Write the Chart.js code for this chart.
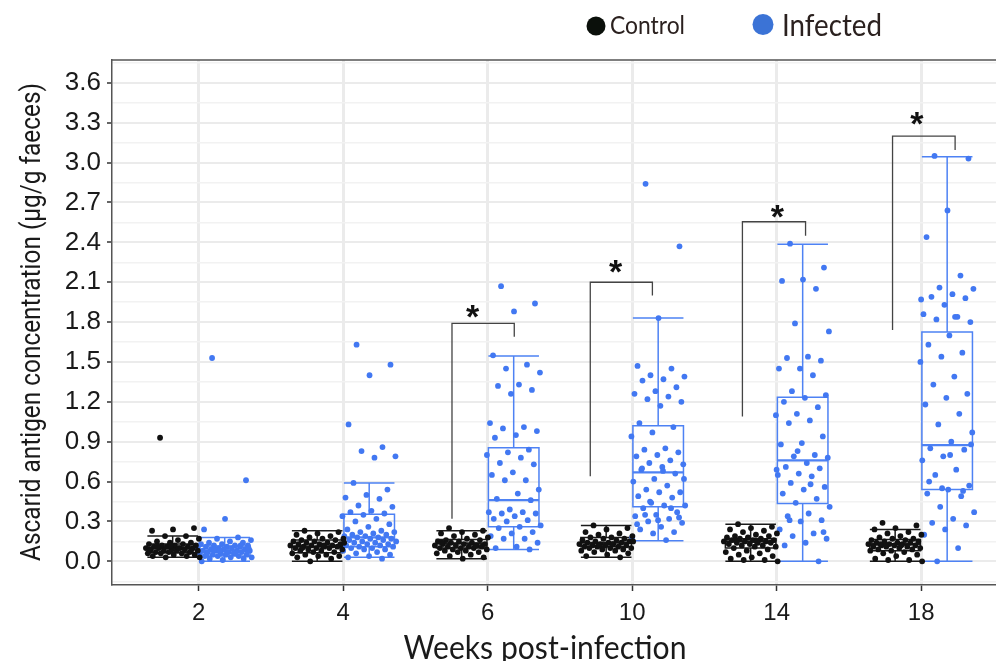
<!DOCTYPE html>
<html>
<head>
<meta charset="utf-8">
<script src="https://cdn.jsdelivr.net/npm/chart.js@4.4.1/dist/chart.umd.min.js"></script>
<style>
  html, body { margin: 0; padding: 0; background: #fff; }
  #wrap { width: 996px; height: 661px; position: relative; }
</style>
</head>
<body>
<div id="wrap"><canvas id="chart"></canvas></div>
<script>
const weeks = ['2', '4', '6', '10', '14', '18'];

// individual samples (µg/g)
const ctrlW2 = [0.93, 0.25, 0.24, 0.23, 0.19, 0.19, 0.17, 0.16, 0.15, 0.14, 0.14, 0.13, 0.13, 0.12, 0.12, 0.12, 0.11, 0.11, 0.11, 0.10, 0.10, 0.10, 0.10, 0.09, 0.09, 0.09, 0.08, 0.08, 0.08, 0.07, 0.07, 0.07, 0.06, 0.06, 0.06, 0.05, 0.05, 0.04, 0.04, 0.03, 0.03, 0.10, 0.11, 0.09, 0.12, 0.08];
const ctrlW4 = [0.23, 0.22, 0.21, 0.20, 0.19, 0.18, 0.17, 0.17, 0.16, 0.16, 0.15, 0.15, 0.14, 0.14, 0.13, 0.13, 0.13, 0.12, 0.12, 0.12, 0.11, 0.11, 0.11, 0.10, 0.10, 0.10, 0.09, 0.09, 0.08, 0.08, 0.07, 0.07, 0.06, 0.05, 0.05, 0.04, 0.04, 0.03, 0.02, 0.00, 0.14, 0.12, 0.10];
const ctrlW6 = [0.25, 0.23, 0.22, 0.21, 0.20, 0.19, 0.18, 0.17, 0.16, 0.16, 0.15, 0.15, 0.14, 0.14, 0.13, 0.13, 0.13, 0.12, 0.12, 0.12, 0.11, 0.11, 0.11, 0.10, 0.10, 0.10, 0.09, 0.09, 0.08, 0.08, 0.07, 0.07, 0.06, 0.05, 0.04, 0.03, 0.02, 0.14, 0.12];
const ctrlW10 = [0.27, 0.25, 0.24, 0.22, 0.21, 0.20, 0.19, 0.18, 0.18, 0.17, 0.17, 0.16, 0.16, 0.15, 0.15, 0.14, 0.14, 0.14, 0.13, 0.13, 0.13, 0.12, 0.12, 0.12, 0.11, 0.11, 0.11, 0.10, 0.10, 0.10, 0.09, 0.09, 0.08, 0.08, 0.07, 0.06, 0.05, 0.04, 0.03, 0.12, 0.15, 0.13];
const ctrlW14 = [0.28, 0.26, 0.25, 0.24, 0.23, 0.22, 0.21, 0.20, 0.19, 0.19, 0.18, 0.18, 0.17, 0.17, 0.16, 0.16, 0.16, 0.15, 0.15, 0.15, 0.14, 0.14, 0.14, 0.13, 0.13, 0.12, 0.12, 0.11, 0.11, 0.10, 0.09, 0.08, 0.07, 0.06, 0.05, 0.04, 0.03, 0.02, 0.01, 0.01, 0.00, 0.15, 0.16];
const ctrlW18 = [0.29, 0.27, 0.25, 0.24, 0.22, 0.21, 0.20, 0.19, 0.18, 0.17, 0.17, 0.16, 0.16, 0.15, 0.15, 0.14, 0.14, 0.14, 0.13, 0.13, 0.13, 0.12, 0.12, 0.12, 0.11, 0.11, 0.11, 0.10, 0.10, 0.09, 0.09, 0.08, 0.08, 0.07, 0.06, 0.05, 0.04, 0.02, 0.01, 0.01, 0.00, 0.12, 0.13];

const infW2 = [1.53, 0.61, 0.32, 0.24, 0.18, 0.17, 0.16, 0.15, 0.14, 0.14, 0.13, 0.13, 0.12, 0.12, 0.12, 0.11, 0.11, 0.11, 0.10, 0.10, 0.10, 0.09, 0.09, 0.09, 0.08, 0.08, 0.08, 0.08, 0.07, 0.07, 0.07, 0.06, 0.06, 0.06, 0.05, 0.05, 0.05, 0.04, 0.04, 0.04, 0.03, 0.03, 0.02, 0.02, 0.01, 0.00, 0.06, 0.09, 0.10, 0.07, 0.05, 0.12, 0.08];
const infW4 = [1.63, 1.48, 1.40, 1.03, 0.86, 0.83, 0.79, 0.78, 0.59, 0.54, 0.50, 0.48, 0.47, 0.42, 0.41, 0.38, 0.37, 0.36, 0.35, 0.34, 0.32, 0.30, 0.28, 0.26, 0.24, 0.23, 0.22, 0.22, 0.21, 0.20, 0.20, 0.19, 0.19, 0.18, 0.18, 0.17, 0.17, 0.16, 0.16, 0.15, 0.15, 0.14, 0.14, 0.13, 0.13, 0.12, 0.12, 0.11, 0.11, 0.10, 0.10, 0.09, 0.09, 0.08, 0.07, 0.06, 0.05, 0.04, 0.03, 0.02];
const infW6 = [2.07, 1.94, 1.88, 1.55, 1.48, 1.45, 1.42, 1.33, 1.32, 1.29, 1.26, 1.04, 1.01, 1.00, 0.98, 0.95, 0.93, 0.84, 0.82, 0.80, 0.78, 0.74, 0.73, 0.67, 0.65, 0.61, 0.61, 0.54, 0.51, 0.47, 0.46, 0.39, 0.37, 0.37, 0.36, 0.36, 0.34, 0.32, 0.31, 0.30, 0.27, 0.26, 0.25, 0.22, 0.21, 0.19, 0.17, 0.17, 0.14, 0.11, 0.10, 0.09];
const infW10 = [2.84, 2.37, 1.83, 1.47, 1.45, 1.40, 1.39, 1.37, 1.36, 1.31, 1.28, 1.26, 1.24, 1.22, 1.20, 1.17, 1.04, 1.01, 0.97, 0.94, 0.85, 0.84, 0.82, 0.80, 0.79, 0.76, 0.74, 0.73, 0.71, 0.69, 0.66, 0.62, 0.60, 0.57, 0.54, 0.52, 0.52, 0.49, 0.48, 0.44, 0.42, 0.42, 0.40, 0.37, 0.35, 0.34, 0.32, 0.30, 0.29, 0.26, 0.24, 0.22, 0.21, 0.18, 0.16, 0.35, 0.33, 0.31, 0.28, 0.40, 0.45, 0.62, 0.68, 0.70];
const infW14 = [2.39, 2.21, 2.12, 2.11, 2.05, 1.79, 1.73, 1.54, 1.53, 1.51, 1.45, 1.45, 1.40, 1.28, 1.25, 1.23, 1.20, 1.16, 1.11, 1.10, 1.06, 1.04, 0.94, 0.89, 0.88, 0.80, 0.79, 0.78, 0.74, 0.71, 0.70, 0.66, 0.65, 0.64, 0.59, 0.56, 0.54, 0.51, 0.47, 0.44, 0.41, 0.36, 0.34, 0.31, 0.30, 0.24, 0.21, 0.19, 0.17, 0.14, 0.12, 0.00, 0.83, 0.69, 0.58, 0.31, 0.22];
const infW18 = [3.05, 3.03, 2.64, 2.44, 2.15, 2.06, 2.05, 2.01, 1.99, 1.98, 1.93, 1.86, 1.84, 1.82, 1.80, 1.70, 1.63, 1.57, 1.54, 1.50, 1.39, 1.33, 1.26, 1.23, 1.18, 1.11, 1.03, 0.97, 0.90, 0.85, 0.84, 0.79, 0.76, 0.69, 0.65, 0.57, 0.54, 0.51, 0.49, 0.41, 0.37, 0.32, 0.29, 0.27, 0.24, 0.20, 0.10, 0.00, 0.88, 0.80, 0.60, 0.53, 0.55, 1.97, 1.84];

// box summaries per week: lower whisker, Q1, median, Q3, upper whisker
const ctrlLow = [0.03, 0.00, 0.02, 0.03, 0.00, 0.00];
const ctrlQ1 = [0.065, 0.065, 0.10, 0.11, 0.10, 0.08];
const ctrlMed = [0.10, 0.11, 0.135, 0.14, 0.15, 0.13];
const ctrlQ3 = [0.13, 0.16, 0.165, 0.18, 0.17, 0.165];
const ctrlHigh = [0.19, 0.23, 0.23, 0.27, 0.28, 0.24];

const infLow = [0.00, 0.03, 0.09, 0.155, 0.00, 0.00];
const infQ1 = [0.04, 0.11, 0.26, 0.41, 0.435, 0.54];
const infMed = [0.08, 0.18, 0.46, 0.67, 0.76, 0.875];
const infQ3 = [0.115, 0.355, 0.855, 1.02, 1.235, 1.725];
const infHigh = [0.18, 0.59, 1.545, 1.83, 2.385, 3.045];

const ctrlSets = [ctrlW2, ctrlW4, ctrlW6, ctrlW10, ctrlW14, ctrlW18];
const infSets = [infW2, infW4, infW6, infW10, infW14, infW18];

const BLACK = '#111';
const BLUE = 'rgb(66,120,242)';
const BOX_OFF = 0.18;   // dodge of each box from the week tick
const BOX_HALF = 0.175;

// spread points across the box width (deterministic, golden-ratio sequence)
function jittered(sets, side) {
  const pts = [];
  sets.forEach((vals, w) => {
    vals.forEach((v, i) => {
      const j = ((i * 0.618034 + 0.27) % 1) - 0.5;
      pts.push({ x: w + 1 + side * BOX_OFF + j * 0.38, y: v });
    });
  });
  return pts;
}

const boxPlugin = {
  id: 'boxes',
  beforeDatasetsDraw(chart) {
    const { ctx, scales: { x, y } } = chart;
    const groups = [
      { low: ctrlLow, q1: ctrlQ1, med: ctrlMed, q3: ctrlQ3, high: ctrlHigh, side: -1, color: '#1a1a1a' },
      { low: infLow, q1: infQ1, med: infMed, q3: infQ3, high: infHigh, side: 1, color: 'rgb(78,130,244)' }
    ];
    ctx.save();
    groups.forEach(g => {
      ctx.strokeStyle = g.color;
      weeks.forEach((w, i) => {
        const c = i + 1 + g.side * BOX_OFF;
        const l = x.getPixelForValue(c - BOX_HALF);
        const r = x.getPixelForValue(c + BOX_HALF);
        const m = x.getPixelForValue(c);
        const py = v => y.getPixelForValue(v);
        ctx.lineWidth = 1.5;
        ctx.beginPath();
        ctx.rect(l, py(g.q3[i]), r - l, py(g.q1[i]) - py(g.q3[i]));
        ctx.moveTo(m, py(g.q3[i])); ctx.lineTo(m, py(g.high[i]));
        ctx.moveTo(m, py(g.q1[i])); ctx.lineTo(m, py(g.low[i]));
        ctx.moveTo(l, py(g.high[i])); ctx.lineTo(r, py(g.high[i]));
        ctx.moveTo(l, py(g.low[i])); ctx.lineTo(r, py(g.low[i]));
        ctx.stroke();
        ctx.lineWidth = 2.2;
        ctx.beginPath();
        ctx.moveTo(l, py(g.med[i])); ctx.lineTo(r, py(g.med[i]));
        ctx.stroke();
      });
    });
    ctx.restore();
  }
};

// significance brackets: week index, left/right offsets, y of left foot, bar, right foot, star
const brackets = [
  { w: 2, l: -0.247, r: 0.184, yl: 0.32, yt: 1.79, yr: 1.69, sx: -0.104, sy: 1.90 },
  { w: 3, l: -0.29, r: 0.14, yl: 0.64, yt: 2.10, yr: 2.00, sx: -0.115, sy: 2.237 },
  { w: 4, l: -0.237, r: 0.20, yl: 1.09, yt: 2.555, yr: 2.45, sx: 0.005, sy: 2.652 },
  { w: 5, l: -0.198, r: 0.235, yl: 1.74, yt: 3.20, yr: 3.095, sx: -0.03, sy: 3.35 }
];

const decorPlugin = {
  id: 'decor',
  afterDraw(chart) {
    const { ctx, chartArea: a, scales: { x, y } } = chart;
    ctx.save();
    // panel top border
    ctx.strokeStyle = '#555';
    ctx.lineWidth = 1.5;
    ctx.beginPath();
    ctx.moveTo(a.left, a.top); ctx.lineTo(a.right, a.top);
    ctx.stroke();

    // brackets + stars
    ctx.strokeStyle = '#444';
    ctx.lineWidth = 1.3;
    brackets.forEach(b => {
      const xl = x.getPixelForValue(b.w + 1 + b.l);
      const xr = x.getPixelForValue(b.w + 1 + b.r);
      ctx.beginPath();
      ctx.moveTo(xl, y.getPixelForValue(b.yl));
      ctx.lineTo(xl, y.getPixelForValue(b.yt));
      ctx.lineTo(xr, y.getPixelForValue(b.yt));
      ctx.lineTo(xr, y.getPixelForValue(b.yr));
      ctx.stroke();
      ctx.fillStyle = '#111';
      ctx.font = 'bold 34px "Liberation Sans"';
      ctx.textAlign = 'center';
      ctx.textBaseline = 'alphabetic';
      ctx.fillText('*', x.getPixelForValue(b.w + 1 + b.sx), y.getPixelForValue(b.sy) + 19);
    });

    // axis titles
    ctx.fillStyle = '#1a1a1a';
    ctx.font = '28px Roboto';
    ctx.textAlign = 'center';
    ctx.translate(40, 322);
    ctx.rotate(-Math.PI / 2);
    ctx.fillText('Ascarid antigen concentration (µg/g faeces)', 0, 0, 478);
    ctx.setTransform(1, 0, 0, 1, 0, 0);
    ctx.font = '32px Lato';
    ctx.fillText('Weeks post-infection', 545, 659, 283);

    // legend
    ctx.fillStyle = '#0b100b';
    ctx.beginPath(); ctx.arc(596, 26, 9.5, 0, Math.PI * 2); ctx.fill();
    ctx.fillStyle = '#3b73d6';
    ctx.beginPath(); ctx.arc(763, 24.5, 10.5, 0, Math.PI * 2); ctx.fill();
    ctx.fillStyle = '#2b211f';
    ctx.textAlign = 'left';
    ctx.font = '25px Lato';
    ctx.fillText('Control', 610, 34, 75);
    ctx.font = '31px Lato';
    ctx.fillText('Infected', 782, 35.5, 100);
    ctx.restore();
  }
};

Chart.defaults.font.family = '"Liberation Sans", Arial, sans-serif';
Chart.defaults.color = '#1a1a1a';

new Chart(document.getElementById('chart'), {
  type: 'scatter',
  data: {
    datasets: [
      { label: 'Control', data: jittered(ctrlSets, -1), backgroundColor: BLACK, borderWidth: 0, pointRadius: 2.9 },
      { label: 'Infected', data: jittered(infSets, 1), backgroundColor: BLUE, borderWidth: 0, pointRadius: 2.9 }
    ]
  },
  options: {
    responsive: true,
    maintainAspectRatio: false,
    animation: false,
    layout: { padding: { top: 60, left: 0, right: 0, bottom: 0 }, autoPadding: false },
    plugins: { legend: { display: false }, tooltip: { enabled: false } },
    scales: {
      x: {
        type: 'linear',
        min: 0.4,
        max: 6.518,
        afterFit: s => { s.height = 76; },
        ticks: {
          stepSize: 1,
          includeBounds: false,
          autoSkip: false,
          maxRotation: 0,
          padding: 8,
          font: { size: 24 },
          color: '#1a1a1a',
          callback: v => weeks[Math.round(v) - 1] ?? ''
        },
        grid: { color: '#ebebeb', lineWidth: 3, tickLength: 6, tickColor: '#333', tickWidth: 1.5 },
        border: { color: '#555', width: 1.5 }
      },
      y: {
        min: -0.178,
        max: 3.772,
        afterFit: s => { s.width = 112; },
        ticks: {
          stepSize: 0.15,
          includeBounds: false,
          autoSkip: false,
          padding: 6,
          font: { size: 26 },
          color: '#1a1a1a',
          callback: v => {
            const k = Math.round(v / 0.15);
            return (k % 2 === 0 && k >= 0 && k <= 24) ? (k * 0.15).toFixed(1) : '';
          }
        },
        grid: {
          color: c => (c.tick && Math.round(c.tick.value / 0.15) % 2 === 0) ? '#ebebeb' : '#f2f2f2',
          lineWidth: c => (c.tick && Math.round(c.tick.value / 0.15) % 2 === 0) ? 2 : 1.5,
          tickLength: 5,
          tickColor: c => {
            const k = c.tick ? Math.round(c.tick.value / 0.15) : 1;
            return (k % 2 === 0 && k >= 0 && k <= 24) ? '#333' : 'rgba(0,0,0,0)';
          },
          tickWidth: 1.5
        },
        border: { color: '#555', width: 1.5 }
      }
    }
  },
  plugins: [boxPlugin, decorPlugin]
});
</script>
</body>
</html>
